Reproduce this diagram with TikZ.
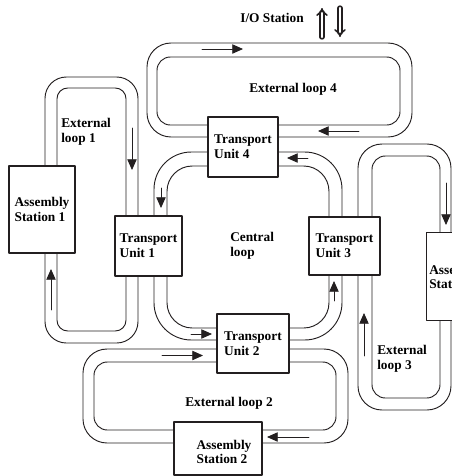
\documentclass[tikz,border=0pt]{standalone}
\usepackage{fontspec}
\setmainfont{Liberation Serif}
\usetikzlibrary{arrows.meta}
\definecolor{track}{HTML}{231F20}
\tikzset{
  track/.style={draw=track,line width=0.7pt},
  unitbox/.style={draw=track,line width=0.9pt,fill=white,inner sep=2pt,align=left,
    font=\bfseries\fontsize{10}{11}\selectfont},
  looplabel/.style={inner sep=0pt,align=left,font=\bfseries\fontsize{10}{11}\selectfont},
  lanearrow/.style={draw=track,line width=0.6pt,-{Triangle[length=8pt,width=7pt]}},
  ioarrow/.style={draw=track,line width=1.2pt,double distance=1.6pt,-{Implies}},
}

\begin{document}
\begin{tikzpicture}[x=0.75pt,y=-0.75pt,line cap=round,line join=round]
  \useasboundingbox (0,0) rectangle (452,476);
  \clip (0,0) rectangle (452,476);
  % ---- track lanes (outer and inner edge of each loop) ----
  % external loop 1
  \draw[track,rounded corners=16pt] (45,77) rectangle (138,343);
  \draw[track,rounded corners=8pt] (57,88) rectangle (126,331);
  % external loop 4
  \draw[track,rounded corners=18pt] (147,43) rectangle (412,137);
  \draw[track,rounded corners=10pt] (157,57) rectangle (400,125);
  % central loop
  \draw[track,rounded corners=28pt] (154,152) rectangle (342,340);
  \draw[track,rounded corners=19pt] (167,166) rectangle (329,328);
  % external loop 2
  \draw[track,rounded corners=18pt] (83,349) rectangle (348,443);
  \draw[track,rounded corners=10pt] (94,362) rectangle (336,430);
  % external loop 3
  \draw[track,rounded corners=18pt] (358,144) rectangle (451,410);
  \draw[track,rounded corners=10pt] (372,156) rectangle (440,398);

  % ---- transport units ----
  \node[unitbox,minimum width=50.25pt,minimum height=45pt] (tu1) at (148.5,246) {Transport\\Unit 1};
  \node[unitbox,minimum width=54pt,minimum height=44.25pt] (tu2) at (253,343.5) {Transport\\Unit 2};
  \node[unitbox,minimum width=53.25pt,minimum height=43.5pt] (tu3) at (344.5,246) {Transport\\Unit 3};
  \node[unitbox,minimum width=52.5pt,minimum height=45pt] (tu4) at (243,147) {Transport\\Unit 4};

  % ---- assembly stations ----
  \node[unitbox,minimum width=49.5pt,minimum height=65.25pt] (as1) at (42,209.5) {Assembly\\Station 1};
  \node[unitbox,minimum width=66pt,minimum height=39.75pt] (as2) at (218,448.5) {};
  \node[unitbox,minimum width=60pt,minimum height=66pt,anchor=north west] (as3) at (426,232) {};
  \node[looplabel] (as2txt) at (224,452) {Assembly\\Station 2};
  \node[looplabel,anchor=west] (as3txt) at (429,277) {Assembly\\Station 3};

  % ---- direction of travel ----
  \foreach \xa/\ya/\xb/\yb in {132/128/132/170, 51/310/51/269, 202/49/243/49, 359/131/318/131,
      308/158/287/158, 161/188/161/208, 191/334/212/334, 334/301/334/281,
      162/355.5/203/355.5, 309/437/267/437, 446/183/446/225, 364/356/364/313}{
    \draw[lanearrow] (\xa,\ya) -- (\xb,\yb);
  }
  % I/O station in and out
  \draw[ioarrow] (322,37) -- (322,8);
  \draw[ioarrow] (340,8) -- (340,37);

  % ---- labels ----
  \node[looplabel] (io) at (272,18) {I/O Station};
  \node[looplabel] (ext4) at (293,89) {External loop 4};
  \node[looplabel,anchor=west] (ext1) at (61,132) {External\\loop 1};
  \node[looplabel,anchor=west] (central) at (230,245.5) {Central\\loop};
  \node[looplabel,anchor=west] (ext3) at (377,358.5) {External\\loop 3};
  \node[looplabel] (ext2) at (229,403) {External loop 2};
\end{tikzpicture}
\end{document}
